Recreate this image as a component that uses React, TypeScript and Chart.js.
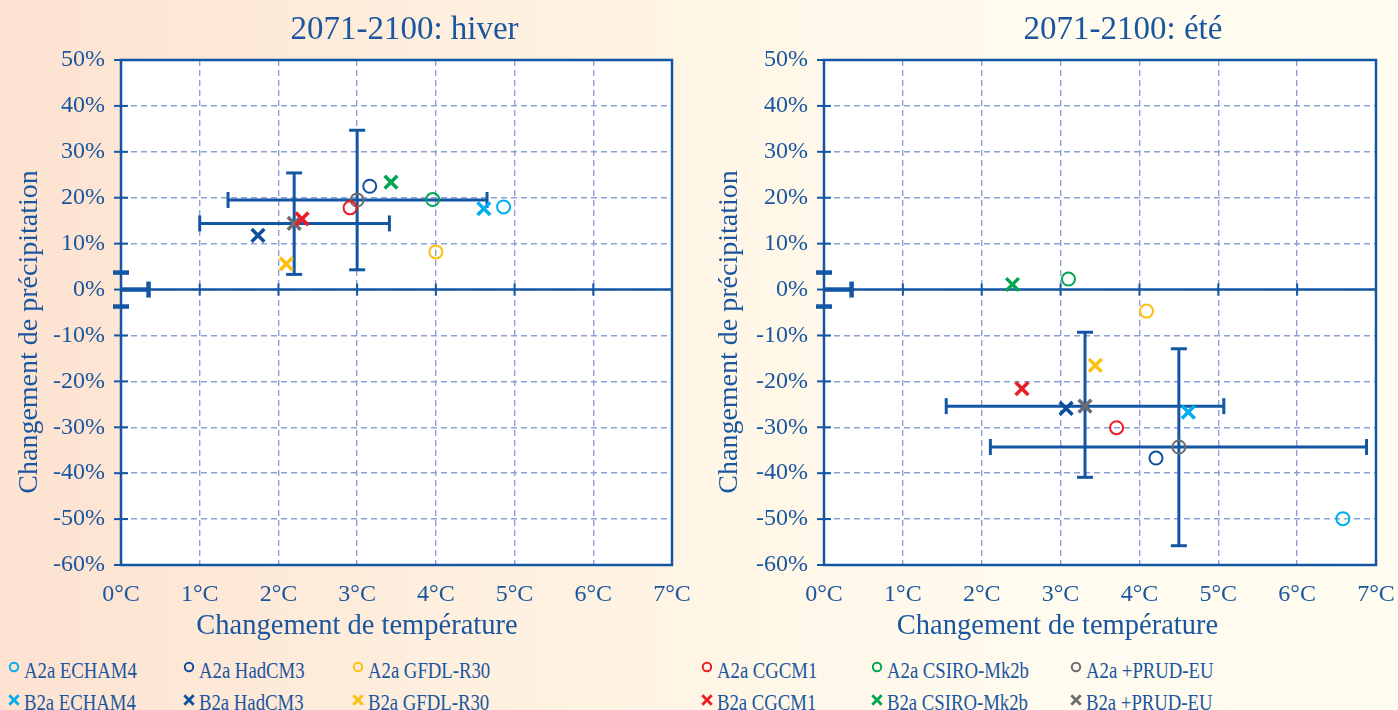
import React, { useEffect, useRef } from "react";
import { Chart, registerables } from "chart.js";

Chart.register(...registerables);

// ---------- data ----------
const MODELS = ["ECHAM4", "HadCM3", "GFDL-R30", "CGCM1", "CSIRO-Mk2b", "+PRUD-EU"];
const COLORS = ["#00aeef", "#0d4f9c", "#fdc010", "#ed1c24", "#00a651", "#6d6e71"];

const X_TICKS = [0, 1, 2, 3, 4, 5, 6, 7];
const X_TICK_LABELS = ["0°C", "1°C", "2°C", "3°C", "4°C", "5°C", "6°C", "7°C"];
const Y_TICKS = [-60, -50, -40, -30, -20, -10, 0, 10, 20, 30, 40, 50];
const Y_TICK_LABELS = ["-60%", "-50%", "-40%", "-30%", "-20%", "-10%", "0%", "10%", "20%", "30%", "40%", "50%"];

// winter (hiver)
const hiverA2T = [4.86, 3.16, 4.0, 2.91, 3.96, 3.0];
const hiverA2P = [18.0, 22.5, 8.2, 17.8, 19.6, 19.5];
const hiverB2T = [4.61, 1.74, 2.1, 2.3, 3.43, 2.2];
const hiverB2P = [17.6, 11.8, 5.6, 15.4, 23.4, 14.4];
const hiverErrCenterT = [3.0, 2.2];
const hiverErrCenterP = [19.5, 14.4];
const hiverErrT = [[1.36, 4.65], [1.0, 3.41]];
const hiverErrP = [[4.3, 34.7], [3.3, 25.4]];

// summer (été)
const eteA2T = [6.58, 4.21, 4.09, 3.71, 3.1, 4.5];
const eteA2P = [-49.9, -36.7, -4.7, -30.1, 2.3, -34.3];
const eteB2T = [4.62, 3.07, 3.44, 2.51, 2.39, 3.31];
const eteB2P = [-26.7, -25.9, -16.5, -21.6, 1.1, -25.4];
const eteErrCenterT = [4.5, 3.31];
const eteErrCenterP = [-34.3, -25.4];
const eteErrT = [[2.11, 6.88], [1.55, 5.07]];
const eteErrP = [[-55.8, -12.9], [-40.9, -9.3]];

// baseline (reference period) uncertainty
const baseT = [-0.35, 0.35];
const baseP = [-3.7, 3.7];

// ---------- styles ----------
const FONT = "'Liberation Serif', 'Times New Roman', serif";
const TEXT = "#1a56a0";
const AXIS = "#1356a4";
const GRID = "#8c9fd6";

function line(ctx, x1, y1, x2, y2) {
  ctx.beginPath();
  ctx.moveTo(x1, y1);
  ctx.lineTo(x2, y2);
  ctx.stroke();
}

function makeOverlay(o) {
  return {
    id: "overlay",
    beforeDraw(chart) {
      const { ctx, chartArea: a } = chart;
      ctx.save();
      ctx.fillStyle = "#ffffff";
      ctx.fillRect(a.left, a.top, a.right - a.left, a.bottom - a.top);
      ctx.restore();
    },
    beforeDatasetsDraw(chart) {
      const { ctx, chartArea: a } = chart;
      const x = chart.scales.x;
      const y = chart.scales.y;
      ctx.save();
      ctx.strokeStyle = AXIS;
      ctx.lineCap = "butt";
      ctx.lineWidth = 2.5;
      ctx.strokeRect(a.left, a.top, a.right - a.left, a.bottom - a.top);
      const y0 = y.getPixelForValue(0);
      const x0 = x.getPixelForValue(0);
      line(ctx, a.left, y0, a.right, y0);
      ctx.lineWidth = 2;
      X_TICKS.forEach((t) => {
        const px = x.getPixelForValue(t);
        line(ctx, px, y0 - 6, px, y0 + 6);
      });
      Y_TICKS.forEach((v) => {
        const py = y.getPixelForValue(v);
        line(ctx, a.left - 7, py, a.left + 7, py);
      });
      // baseline uncertainty
      ctx.lineWidth = 4.5;
      const bx1 = Math.max(a.left, x.getPixelForValue(baseT[0]));
      const bx2 = x.getPixelForValue(baseT[1]);
      line(ctx, bx1, y0, bx2, y0);
      line(ctx, bx2, y0 - 8, bx2, y0 + 8);
      baseP.forEach((p) => {
        const py = y.getPixelForValue(p);
        line(ctx, x0 - 8, py, x0 + 8, py);
      });
      // error bars
      ctx.lineWidth = 3;
      for (let i = 0; i < o.cT.length; i++) {
        const cy = y.getPixelForValue(o.cP[i]);
        const cx = x.getPixelForValue(o.cT[i]);
        const l = x.getPixelForValue(o.eT[i][0]);
        const r = Math.min(x.getPixelForValue(o.eT[i][1]), a.right);
        line(ctx, l, cy, r, cy);
        line(ctx, l, cy - 8, l, cy + 8);
        if (x.getPixelForValue(o.eT[i][1]) <= a.right) line(ctx, r, cy - 8, r, cy + 8);
        const b = y.getPixelForValue(o.eP[i][0]);
        const t = y.getPixelForValue(o.eP[i][1]);
        line(ctx, cx, b, cx, t);
        line(ctx, cx - 8, b, cx + 8, b);
        line(ctx, cx - 8, t, cx + 8, t);
      }
      ctx.restore();
    },
    afterDraw(chart) {
      const { ctx } = chart;
      ctx.save();
      ctx.fillStyle = TEXT;
      ctx.textAlign = "center";
      ctx.textBaseline = "alphabetic";
      ctx.font = `33px ${FONT}`;
      ctx.fillText(o.title, o.titleX, 39);
      ctx.font = `28.5px ${FONT}`;
      ctx.fillText("Changement de température", o.xTitleX, 634);
      ctx.font = `28px ${FONT}`;
      ctx.translate(37, 332);
      ctx.rotate(-Math.PI / 2);
      ctx.fillText("Changement de précipitation", 0, 0);
      ctx.restore();
    },
  };
}

function buildDatasets(a2t, a2p, b2t, b2p) {
  const ds = [];
  MODELS.forEach((m, i) => {
    ds.push({
      label: "A2a " + m,
      data: [{ x: a2t[i], y: a2p[i] }],
      pointStyle: "circle",
      pointRadius: 6.5,
      borderWidth: 2,
      borderColor: COLORS[i],
      backgroundColor: "rgba(0,0,0,0)",
      showLine: false,
    });
    ds.push({
      label: "B2a " + m,
      data: [{ x: b2t[i], y: b2p[i] }],
      pointStyle: "crossRot",
      pointRadius: 9,
      borderWidth: 3.5,
      borderColor: COLORS[i],
      backgroundColor: COLORS[i],
      showLine: false,
    });
  });
  return ds;
}

function Panel(props) {
  const ref = useRef(null);
  useEffect(() => {
    const p = props;
    const tickFont = { family: FONT, size: 24 };
    const chart = new Chart(ref.current, {
      type: "scatter",
      data: { datasets: buildDatasets(p.a2t, p.a2p, p.b2t, p.b2p) },
      options: {
        animation: false,
        responsive: true,
        maintainAspectRatio: false,
        layout: { padding: { top: 60, right: p.rightPad, left: 0, bottom: 0 } },
        plugins: { legend: { display: false }, tooltip: { enabled: false }, title: { display: false } },
        scales: {
          x: {
            type: "linear",
            min: 0,
            max: 7,
            afterBuildTicks: (s) => {
              s.ticks = X_TICKS.map((v) => ({ value: v }));
            },
            afterFit: (s) => {
              s.height = 80;
              s.paddingLeft = 0;
              s.paddingRight = 0;
            },
            ticks: {
              callback: (v) => X_TICK_LABELS[X_TICKS.indexOf(v)],
              font: tickFont,
              color: TEXT,
              padding: 15,
              maxRotation: 0,
              autoSkip: false,
            },
            grid: { color: GRID, lineWidth: 1.4, drawTicks: false },
            border: { display: false, dash: [6, 4] },
          },
          y: {
            type: "linear",
            min: -60,
            max: 50,
            afterBuildTicks: (s) => {
              s.ticks = Y_TICKS.map((v) => ({ value: v }));
            },
            afterFit: (s) => {
              s.width = p.yWidth;
              s.paddingTop = 0;
              s.paddingBottom = 0;
            },
            ticks: {
              callback: (v) => Y_TICK_LABELS[Y_TICKS.indexOf(v)],
              font: tickFont,
              color: TEXT,
              padding: 16,
              autoSkip: false,
            },
            grid: { color: GRID, lineWidth: 1.4, drawTicks: false },
            border: { display: false, dash: [6, 4] },
          },
        },
      },
      plugins: [
        makeOverlay({
          title: p.title,
          titleX: p.titleX,
          xTitleX: p.xTitleX,
          cT: p.cT,
          cP: p.cP,
          eT: p.eT,
          eP: p.eP,
        }),
      ],
    });
    return () => chart.destroy();
  }, []);
  return (
    <div style={{ position: "absolute", left: props.left, top: 0, width: props.width, height: 645 }}>
      <canvas ref={ref} />
    </div>
  );
}

const LEGEND_X = [14, 189, 358, 707, 877, 1076];

function Marker({ kind, color }) {
  return (
    <svg width="14" height="14" viewBox="0 0 14 14" style={{ display: "block" }}>
      {kind === "circle" ? (
        <circle cx="7" cy="7" r="4.2" fill="none" stroke={color} strokeWidth="2" />
      ) : (
        <g stroke={color} strokeWidth="2.8">
          <line x1="2.3" y1="2.3" x2="11.7" y2="11.7" />
          <line x1="11.7" y1="2.3" x2="2.3" y2="11.7" />
        </g>
      )}
    </svg>
  );
}

function Legend() {
  const rows = [
    { prefix: "A2a ", kind: "circle", markerY: 667, textTop: 658 },
    { prefix: "B2a ", kind: "cross", markerY: 700, textTop: 689.5 },
  ];
  const items = [];
  rows.forEach((r, ri) => {
    MODELS.forEach((m, i) => {
      const cx = LEGEND_X[i];
      items.push(
        <div key={`m${ri}-${i}`} style={{ position: "absolute", left: cx - 7, top: r.markerY - 7 }}>
          <Marker kind={r.kind} color={COLORS[i]} />
        </div>
      );
      items.push(
        <div
          key={`t${ri}-${i}`}
          style={{
            position: "absolute",
            left: cx + 10,
            top: r.textTop,
            fontFamily: FONT,
            fontSize: 24,
            lineHeight: "24px",
            color: TEXT,
            whiteSpace: "nowrap",
            transform: "scaleX(0.78)",
            transformOrigin: "left center",
          }}
        >
          {r.prefix + m}
        </div>
      );
    });
  });
  return <>{items}</>;
}

export default function App() {
  return (
    <div
      style={{
        position: "fixed",
        left: 0,
        top: 0,
        width: 1398,
        height: 710,
        overflow: "hidden",
        background: "linear-gradient(to right, #fde2d0 0%, #feeedd 30%, #fff7e8 55%, #fffbee 75%, #fffcf0 100%)",
      }}
    >
      <Panel
        left={0}
        width={700}
        yWidth={121}
        rightPad={28}
        title="2071-2100: hiver"
        titleX={404.5}
        xTitleX={357}
        a2t={hiverA2T}
        a2p={hiverA2P}
        b2t={hiverB2T}
        b2p={hiverB2P}
        cT={hiverErrCenterT}
        cP={hiverErrCenterP}
        eT={hiverErrT}
        eP={hiverErrP}
      />
      <Panel
        left={700}
        width={698}
        yWidth={124}
        rightPad={22}
        title="2071-2100: été"
        titleX={423}
        xTitleX={357.5}
        a2t={eteA2T}
        a2p={eteA2P}
        b2t={eteB2T}
        b2p={eteB2P}
        cT={eteErrCenterT}
        cP={eteErrCenterP}
        eT={eteErrT}
        eP={eteErrP}
      />
      <Legend />
    </div>
  );
}
